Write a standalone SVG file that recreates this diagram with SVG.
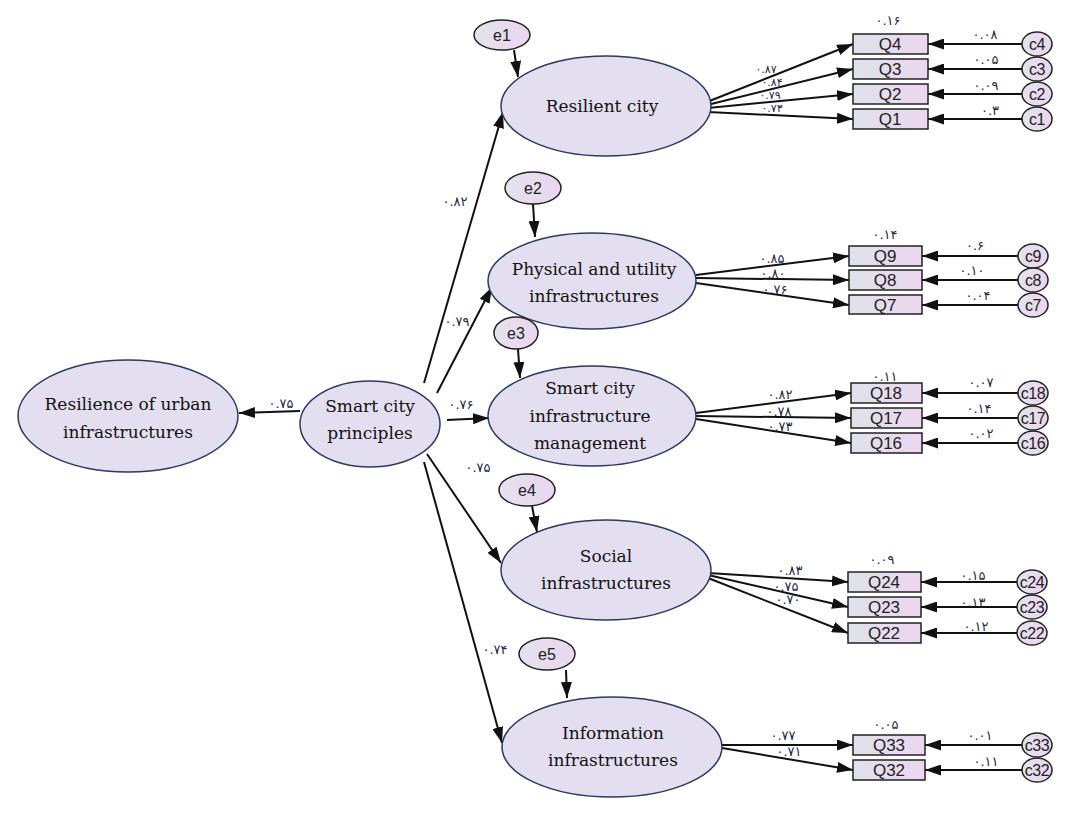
<svg xmlns="http://www.w3.org/2000/svg" width="1068" height="817" viewBox="0 0 1068 817">
<defs>
<linearGradient id="boxg" x1="0" y1="0" x2="1" y2="0">
<stop offset="0" stop-color="#dfe2ea"/><stop offset="1" stop-color="#ecd6ef"/>
</linearGradient>
<linearGradient id="cg" x1="0" y1="0" x2="1" y2="0">
<stop offset="0" stop-color="#e4e2ee"/><stop offset="1" stop-color="#ead6ee"/>
</linearGradient>
<marker id="ah" viewBox="0 0 16 11" refX="16" refY="5.5" markerWidth="16" markerHeight="11" markerUnits="userSpaceOnUse" orient="auto">
<path d="M0,0 L16,5.5 L0,11 z" fill="#111"/>
</marker>
<style>
.lat{fill:#e3dff0;stroke:#2b3a5e;stroke-width:1.5}
.err{fill:url(#cg);stroke:#222;stroke-width:1.5}
.box{fill:url(#boxg);stroke:#222;stroke-width:1.5}
.res{fill:url(#cg);stroke:#222;stroke-width:1.5}
.ln{stroke:#111;stroke-width:2;fill:none;marker-end:url(#ah)}
.t{font-family:"DejaVu Serif","Liberation Serif",serif;font-size:17px;fill:#111;text-anchor:middle}
.q{font-family:"Liberation Sans",Arial,sans-serif;font-size:17px;fill:#222;text-anchor:middle}
.c{font-family:"Liberation Sans",Arial,sans-serif;font-size:16px;fill:#222;text-anchor:middle;letter-spacing:-0.5px}
.e{font-family:"Liberation Sans",Arial,sans-serif;font-size:16px;fill:#222;text-anchor:middle}
.n{font-family:"DejaVu Sans",sans-serif;font-size:13px;fill:#1d2a4a;text-anchor:middle}
.ns{font-family:"DejaVu Sans",sans-serif;font-size:11px;fill:#1d2a4a;text-anchor:middle}
</style>
</defs>
<rect width="1068" height="817" fill="#fff"/>

<g id="connectors">
<line class="ln" x1="300" y1="411" x2="239" y2="413"/>
<line class="ln" x1="424" y1="383" x2="503" y2="112"/>
<line class="ln" x1="437" y1="393" x2="492" y2="287"/>
<line class="ln" x1="447" y1="420" x2="489" y2="418"/>
<line class="ln" x1="427" y1="454" x2="501" y2="563"/>
<line class="ln" x1="424" y1="462" x2="502" y2="743"/>
<line class="ln" x1="514" y1="50" x2="518" y2="77"/>
<line class="ln" x1="533" y1="204" x2="535" y2="237"/>
<line class="ln" x1="518" y1="349" x2="520" y2="378"/>
<line class="ln" x1="532" y1="506" x2="537" y2="532"/>
<line class="ln" x1="566" y1="670" x2="567" y2="698"/>
<line class="ln" x1="707" y1="102" x2="853" y2="44"/>
<line class="ln" x1="707" y1="105" x2="853" y2="69"/>
<line class="ln" x1="708" y1="108" x2="853" y2="94"/>
<line class="ln" x1="708" y1="112" x2="853" y2="119"/>
<line class="ln" x1="696" y1="275" x2="849" y2="256"/>
<line class="ln" x1="696" y1="278" x2="849" y2="280"/>
<line class="ln" x1="696" y1="283" x2="849" y2="305"/>
<line class="ln" x1="696" y1="413" x2="851" y2="393"/>
<line class="ln" x1="696" y1="416" x2="851" y2="418"/>
<line class="ln" x1="696" y1="419" x2="851" y2="443"/>
<line class="ln" x1="708" y1="573" x2="848" y2="582"/>
<line class="ln" x1="708" y1="575" x2="848" y2="607"/>
<line class="ln" x1="708" y1="578" x2="848" y2="633"/>
<line class="ln" x1="722" y1="745" x2="853" y2="745"/>
<line class="ln" x1="722" y1="748" x2="853" y2="770"/>
<line class="ln" x1="1022" y1="44" x2="928" y2="44"/>
<line class="ln" x1="1022" y1="69" x2="928" y2="69"/>
<line class="ln" x1="1022" y1="94" x2="928" y2="94"/>
<line class="ln" x1="1022" y1="119" x2="928" y2="119"/>
<line class="ln" x1="1018" y1="256" x2="922" y2="256"/>
<line class="ln" x1="1018" y1="280" x2="922" y2="280"/>
<line class="ln" x1="1018" y1="305" x2="922" y2="305"/>
<line class="ln" x1="1018" y1="393" x2="922" y2="393"/>
<line class="ln" x1="1018" y1="418" x2="922" y2="418"/>
<line class="ln" x1="1018" y1="443" x2="922" y2="443"/>
<line class="ln" x1="1017" y1="582" x2="921" y2="582"/>
<line class="ln" x1="1017" y1="607" x2="921" y2="607"/>
<line class="ln" x1="1017" y1="633" x2="921" y2="633"/>
<line class="ln" x1="1022" y1="745" x2="925" y2="745"/>
<line class="ln" x1="1022" y1="770" x2="925" y2="770"/>
<text class="n" x="281" y="408">۰.۷۵</text>
<text class="n" x="455" y="206">۰.۸۲</text>
<text class="n" x="457" y="326">۰.۷۹</text>
<text class="n" x="461" y="409">۰.۷۶</text>
<text class="n" x="478" y="472">۰.۷۵</text>
<text class="n" x="495" y="654">۰.۷۴</text>
<text class="ns" x="766" y="73">۰.۸۷</text>
<text class="ns" x="772" y="86">۰.۸۴</text>
<text class="ns" x="770" y="99">۰.۷۹</text>
<text class="ns" x="772" y="112">۰.۷۳</text>
<text class="n" x="888" y="25">۰.۱۶</text>
<text class="n" x="985" y="39">۰.۰۸</text>
<text class="n" x="986" y="64">۰.۰۵</text>
<text class="n" x="986" y="90">۰.۰۹</text>
<text class="n" x="990" y="115">۰.۳</text>
<text class="n" x="772" y="263">۰.۸۵</text>
<text class="n" x="773" y="278">۰.۸۰</text>
<text class="n" x="775" y="294">۰.۷۶</text>
<text class="n" x="885" y="239">۰.۱۴</text>
<text class="n" x="975" y="250">۰.۶</text>
<text class="n" x="972" y="275">۰.۱۰</text>
<text class="n" x="978" y="300">۰.۰۴</text>
<text class="n" x="780" y="399">۰.۸۲</text>
<text class="n" x="779" y="416">۰.۷۸</text>
<text class="n" x="780" y="431">۰.۷۳</text>
<text class="n" x="885" y="381">۰.۱۱</text>
<text class="n" x="981" y="387">۰.۰۷</text>
<text class="n" x="979" y="413">۰.۱۴</text>
<text class="n" x="981" y="438">۰.۰۲</text>
<text class="n" x="790" y="575">۰.۸۳</text>
<text class="n" x="786" y="591">۰.۷۵</text>
<text class="n" x="788" y="604">۰.۷۰</text>
<text class="n" x="882" y="564">۰.۰۹</text>
<text class="n" x="973" y="580">۰.۱۵</text>
<text class="n" x="973" y="607">۰.۱۳</text>
<text class="n" x="976" y="631">۰.۱۲</text>
<text class="n" x="783" y="740">۰.۷۷</text>
<text class="n" x="789" y="756">۰.۷۱</text>
<text class="n" x="886" y="729">۰.۰۵</text>
<text class="n" x="980" y="740">۰.۰۱</text>
<text class="n" x="986" y="766">۰.۱۱</text>
</g>

<g id="resilience-urban"><ellipse class="lat" cx="128" cy="416" rx="110" ry="56"/><text class="t" x="128" y="410">Resilience of urban</text><text class="t" x="128" y="438">infrastructures</text></g>
<g id="smart-city-principles"><ellipse class="lat" cx="370" cy="424" rx="70" ry="43"/><text class="t" x="370" y="412">Smart city</text><text class="t" x="370" y="439">principles</text></g>
<g id="resilient-city"><ellipse class="lat" cx="606" cy="106" rx="105" ry="50"/><text class="t" x="602" y="112">Resilient city</text></g>
<g id="physical"><ellipse class="lat" cx="592" cy="281" rx="104" ry="48"/><text class="t" x="594" y="275">Physical and utility</text><text class="t" x="594" y="302">infrastructures</text></g>
<g id="management"><ellipse class="lat" cx="592" cy="416" rx="104" ry="50"/><text class="t" x="590" y="394">Smart city</text><text class="t" x="590" y="422">infrastructure</text><text class="t" x="590" y="449">management</text></g>
<g id="social"><ellipse class="lat" cx="606" cy="570" rx="105" ry="50"/><text class="t" x="606" y="562">Social</text><text class="t" x="606" y="589">infrastructures</text></g>
<g id="information"><ellipse class="lat" cx="612" cy="747" rx="110" ry="50"/><text class="t" x="613" y="739">Information</text><text class="t" x="613" y="766">infrastructures</text></g>

<g id="e1"><ellipse class="err" cx="502" cy="35" rx="28" ry="15"/><text class="e" x="502" y="41">e1</text></g>
<g id="e2"><ellipse class="err" cx="533" cy="188" rx="28" ry="16"/><text class="e" x="533" y="194">e2</text></g>
<g id="e3"><ellipse class="err" cx="516" cy="333" rx="22" ry="16"/><text class="e" x="516" y="339">e3</text></g>
<g id="e4"><ellipse class="err" cx="527" cy="490" rx="28" ry="16"/><text class="e" x="527" y="496">e4</text></g>
<g id="e5"><ellipse class="err" cx="547" cy="654" rx="28" ry="16"/><text class="e" x="547" y="660">e5</text></g>

<g id="Q4"><rect class="box" x="853" y="34" width="75" height="20"/><text class="q" x="890" y="50">Q4</text></g>
<g id="Q3"><rect class="box" x="853" y="59" width="75" height="20"/><text class="q" x="890" y="75">Q3</text></g>
<g id="Q2"><rect class="box" x="853" y="84" width="75" height="20"/><text class="q" x="890" y="100">Q2</text></g>
<g id="Q1"><rect class="box" x="853" y="109" width="75" height="20"/><text class="q" x="890" y="125">Q1</text></g>
<g id="Q9"><rect class="box" x="849" y="246" width="73" height="20"/><text class="q" x="885" y="262">Q9</text></g>
<g id="Q8"><rect class="box" x="849" y="270" width="73" height="20"/><text class="q" x="885" y="286">Q8</text></g>
<g id="Q7"><rect class="box" x="849" y="295" width="73" height="19"/><text class="q" x="885" y="311">Q7</text></g>
<g id="Q18"><rect class="box" x="851" y="383" width="71" height="20"/><text class="q" x="886" y="399">Q18</text></g>
<g id="Q17"><rect class="box" x="851" y="408" width="71" height="20"/><text class="q" x="886" y="424">Q17</text></g>
<g id="Q16"><rect class="box" x="851" y="433" width="71" height="20"/><text class="q" x="886" y="449">Q16</text></g>
<g id="Q24"><rect class="box" x="848" y="572" width="73" height="20"/><text class="q" x="884" y="588">Q24</text></g>
<g id="Q23"><rect class="box" x="848" y="597" width="73" height="20"/><text class="q" x="884" y="613">Q23</text></g>
<g id="Q22"><rect class="box" x="848" y="623" width="73" height="20"/><text class="q" x="884" y="639">Q22</text></g>
<g id="Q33"><rect class="box" x="853" y="735" width="72" height="20"/><text class="q" x="889" y="751">Q33</text></g>
<g id="Q32"><rect class="box" x="853" y="760" width="72" height="20"/><text class="q" x="889" y="776">Q32</text></g>

<g id="c4"><ellipse class="res" cx="1037" cy="44" rx="15" ry="12"/><text class="c" x="1037" y="50">c4</text></g>
<g id="c3"><ellipse class="res" cx="1037" cy="69" rx="15" ry="12"/><text class="c" x="1037" y="75">c3</text></g>
<g id="c2"><ellipse class="res" cx="1037" cy="94" rx="15" ry="12"/><text class="c" x="1037" y="100">c2</text></g>
<g id="c1"><ellipse class="res" cx="1037" cy="119" rx="15" ry="12"/><text class="c" x="1037" y="125">c1</text></g>
<g id="c9"><ellipse class="res" cx="1033" cy="256" rx="15" ry="12"/><text class="c" x="1033" y="262">c9</text></g>
<g id="c8"><ellipse class="res" cx="1033" cy="280" rx="15" ry="12"/><text class="c" x="1033" y="286">c8</text></g>
<g id="c7"><ellipse class="res" cx="1033" cy="305" rx="15" ry="12"/><text class="c" x="1033" y="311">c7</text></g>
<g id="c18"><ellipse class="res" cx="1033" cy="393" rx="15" ry="12"/><text class="c" x="1033" y="399">c18</text></g>
<g id="c17"><ellipse class="res" cx="1033" cy="418" rx="15" ry="12"/><text class="c" x="1033" y="424">c17</text></g>
<g id="c16"><ellipse class="res" cx="1033" cy="443" rx="15" ry="12"/><text class="c" x="1033" y="449">c16</text></g>
<g id="c24"><ellipse class="res" cx="1032" cy="582" rx="15" ry="12"/><text class="c" x="1032" y="588">c24</text></g>
<g id="c23"><ellipse class="res" cx="1032" cy="607" rx="15" ry="12"/><text class="c" x="1032" y="613">c23</text></g>
<g id="c22"><ellipse class="res" cx="1032" cy="633" rx="15" ry="12"/><text class="c" x="1032" y="639">c22</text></g>
<g id="c33"><ellipse class="res" cx="1037" cy="745" rx="15" ry="12"/><text class="c" x="1037" y="751">c33</text></g>
<g id="c32"><ellipse class="res" cx="1037" cy="770" rx="15" ry="12"/><text class="c" x="1037" y="776">c32</text></g>
</svg>
